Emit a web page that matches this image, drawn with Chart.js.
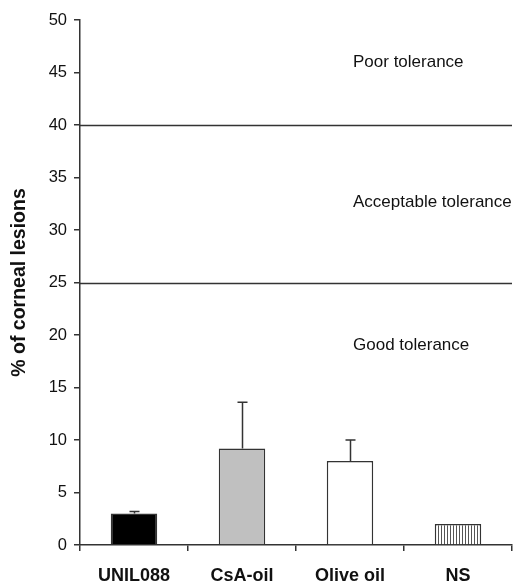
<!DOCTYPE html>
<html>
<head>
<meta charset="utf-8">
<script src="https://cdn.jsdelivr.net/npm/chart.js@4"></script>
<style>
  html, body { margin: 0; padding: 0; background: #fff; }
  #wrap { width: 518px; height: 582px; }
</style>
</head>
<body>
<div id="wrap"><canvas id="lesionChart" width="518" height="582"></canvas></div>
<script>
// data
const categories = ["UNIL088", "CsA-oil", "Olive oil", "NS"];
const lesionMeans = [3, 9.2, 8, 2];
const lesionErrors = [0.2, 4.4, 2, 0];
const toleranceLimits = [40, 25];
const toleranceLabels = ["Poor tolerance", "Acceptable tolerance", "Good tolerance"];
const toleranceLabelY = [46, 32.6, 19];
const yTicks = [0, 5, 10, 15, 20, 25, 30, 35, 40, 45, 50];

const FONT = "'Liberation Sans', Arial, Helvetica, sans-serif";

function stripePattern() {
    const c = document.createElement("canvas");
    c.width = 3; c.height = 3;
    const g = c.getContext("2d");
    g.fillStyle = "#ffffff";
    g.fillRect(0, 0, 3, 3);
    g.fillStyle = "#555555";
    g.fillRect(0, 0, 1, 3);
    return g.createPattern(c, "repeat");
}

// horizontal tolerance lines + zone labels
const tolerancePlugin = {
    id: "tolerance",
    beforeDatasetsDraw(chart) {
        const { ctx, chartArea, scales } = chart;
        ctx.save();
        ctx.strokeStyle = "#333";
        ctx.lineWidth = 1.5;
        toleranceLimits.forEach(v => {
            const y = Math.round(scales.y.getPixelForValue(v)) + 0.5;
            ctx.beginPath();
            ctx.moveTo(chartArea.left, y);
            ctx.lineTo(chartArea.right, y);
            ctx.stroke();
        });
        ctx.fillStyle = "#111";
        ctx.font = "17px " + FONT;
        ctx.textAlign = "left";
        ctx.textBaseline = "middle";
        const x = scales.x.getPixelForValue(2) + 3;
        toleranceLabels.forEach((t, i) => {
            ctx.fillText(t, x, scales.y.getPixelForValue(toleranceLabelY[i]));
        });
        ctx.restore();
    }
};

// upper error bars only
const errorBarPlugin = {
    id: "errorBars",
    afterDatasetsDraw(chart) {
        const { ctx, scales } = chart;
        const meta = chart.getDatasetMeta(0);
        ctx.save();
        ctx.strokeStyle = "#333";
        ctx.lineWidth = 1.5;
        meta.data.forEach((bar, i) => {
            if (!lesionErrors[i]) return;
            const x = Math.round(bar.x) + 0.5;
            const yTop = scales.y.getPixelForValue(lesionMeans[i]);
            const yErr = scales.y.getPixelForValue(lesionMeans[i] + lesionErrors[i]);
            ctx.beginPath();
            ctx.moveTo(x, yTop);
            ctx.lineTo(x, yErr);
            ctx.moveTo(x - 5, yErr);
            ctx.lineTo(x + 5, yErr);
            ctx.stroke();
        });
        ctx.restore();
    }
};

document.addEventListener("DOMContentLoaded", () => {
    const ctx = document.getElementById("lesionChart").getContext("2d");
    new Chart(ctx, {
        type: "bar",
        data: {
            labels: categories,
            datasets: [{
                data: lesionMeans,
                backgroundColor: ["#000000", "#c0c0c0", "#ffffff", stripePattern()],
                borderColor: "#333",
                borderWidth: 1.5,
                barPercentage: 0.43,
                categoryPercentage: 1.0
            }]
        },
        options: {
            responsive: false,
            animation: false,
            layout: { padding: { top: 20, right: 6, left: 8, bottom: 0 } },
            plugins: {
                legend: { display: false },
                tooltip: { enabled: false }
            },
            scales: {
                x: {
                    offset: true,
                    afterFit: s => { s.height = 37; },
                    border: { color: "#333", width: 1.5 },
                    grid: { display: true, offset: true, drawOnChartArea: false, drawTicks: true, tickLength: 6, color: "#333", lineWidth: 1.5 },
                    ticks: { color: "#111", font: { family: FONT, size: 18, weight: "bold" }, padding: 14 }
                },
                y: {
                    min: 0,
                    max: 50,
                    afterBuildTicks: s => { s.ticks = yTicks.map(v => ({ value: v })); },
                    afterFit: s => { s.width = 72; },
                    border: { color: "#333", width: 1.5 },
                    grid: { display: true, drawOnChartArea: false, drawTicks: true, tickLength: 6, color: "#333", lineWidth: 1.5 },
                    ticks: { color: "#111", font: { family: FONT, size: 16.5 }, padding: 7 },
                    title: {
                        display: true,
                        text: "% of corneal lesions",
                        color: "#111",
                        font: { family: FONT, size: 19.5, weight: "bold" },
                        padding: { top: 0, bottom: 4 }
                    }
                }
            }
        },
        plugins: [tolerancePlugin, errorBarPlugin]
    });
});
</script>
</body>
</html>
